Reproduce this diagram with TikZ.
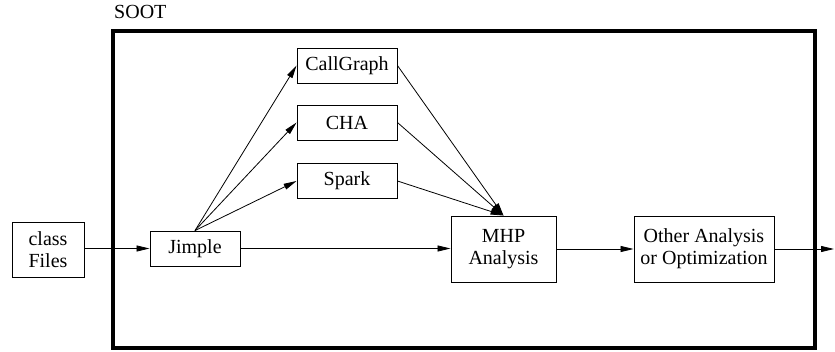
\documentclass[tikz,border=0pt]{standalone}
\usepackage{fontspec}
\setmainfont{Liberation Serif}
\usetikzlibrary{arrows.meta}
\begin{document}
\begin{tikzpicture}[x=1pt,y=-1pt,
  box/.style={draw=black,line width=0.9pt,inner sep=0pt,align=center,
    font=\fontsize{20}{22}\selectfont},
  conn/.style={line width=0.8pt,-{Triangle[length=13pt,width=6pt]}},
  frame/.style={line width=4pt}]
\useasboundingbox (0,0) rectangle (835,352);
\node[anchor=base west,font=\fontsize{20}{22}\selectfont,inner sep=0pt] (soot) at (114,19) {SOOT};
\draw[frame] (113,31) rectangle (815,348);
\node[box,minimum width=72pt,minimum height=55pt] (cf) at (48,249.5) {class\\Files};
\node[box,minimum width=90pt,minimum height=35pt] (jimple) at (195,248.5) {Jimple};
\node[box,minimum width=100pt,minimum height=35pt] (cg) at (347,65.5) {CallGraph};
\node[box,minimum width=100pt,minimum height=35pt] (cha) at (347,122.5) {CHA};
\node[box,minimum width=100pt,minimum height=35pt] (spark) at (347,181) {Spark};
\node[box,minimum width=105pt,minimum height=66pt] (mhp) at (503.5,249) {MHP\\Analysis};
\node[box,minimum width=140pt,minimum height=66pt] (other) at (704,249) {Other Analysis\\or Optimization};
\coordinate (out) at (834,249);
\draw[conn] (cf.east |- jimple.west) -- (jimple.west);
\draw[conn] (jimple.north) -- (cg.west);
\draw[conn] (jimple.north) -- (cha.west);
\draw[conn] (jimple.north) -- (spark.west);
\draw[conn] (jimple.east) -- (jimple.east -| mhp.west);
\draw[conn] (cg.east) -- (mhp.north);
\draw[conn] (cha.east) -- (mhp.north);
\draw[conn] (spark.east) -- (mhp.north);
\draw[conn] (mhp.east) -- (other.west);
\draw[conn] (other.east) -- (out);
\end{tikzpicture}
\end{document}
